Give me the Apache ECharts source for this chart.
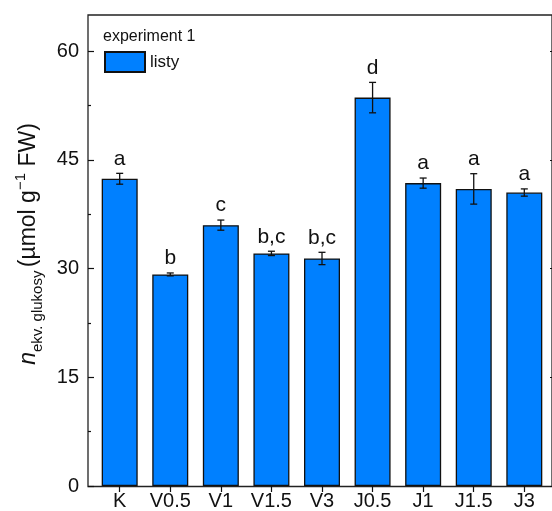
<!DOCTYPE html>
<html>
<head>
<meta charset="utf-8">
<script src="https://cdn.jsdelivr.net/npm/echarts@6/dist/echarts.min.js"></script>
<style>
  html, body { margin: 0; padding: 0; background: #fff; }
  #chart { width: 552px; height: 511px; }
</style>
</head>
<body>
<div id="chart"></div>
<script>
// Leaf glucose-equivalent content per treatment (mean ± error)
const categories = ['K', 'V0.5', 'V1', 'V1.5', 'V3', 'J0.5', 'J1', 'J1.5', 'J3'];
const means = [42.4, 29.2, 36.0, 32.1, 31.4, 53.6, 41.8, 41.0, 40.5];
const errors = [0.75, 0.2, 0.7, 0.3, 0.85, 2.1, 0.7, 2.1, 0.5];
const groups = ['a', 'b', 'c', 'b,c', 'b,c', 'd', 'a', 'a', 'a'];
const yTicks = [0, 15, 30, 45, 60];
const yMinorTicks = [7.5, 22.5, 37.5, 52.5];
const seriesName = 'listy';
const legendTitle = 'experiment 1';

const FONT = 'Liberation Sans, Arial, sans-serif';
const INK = '#111';
const BAR_FILL = '#0080ff';
const Y_MIN = 0, Y_MAX = 65;

const chart = echarts.init(document.getElementById('chart'), null, { renderer: 'canvas' });

function yAxisDef(position, values, tickLen, showLabels) {
  return {
    type: 'value', gridIndex: 1, position: position, offset: 6.4,
    min: Y_MIN, max: Y_MAX,
    axisLine: { show: false },
    splitLine: { show: false },
    axisTick: { show: true, inside: true, length: tickLen, customValues: values,
                lineStyle: { color: INK, width: 1.2 } },
    axisLabel: { show: showLabels, customValues: values, margin: 9,
                 fontFamily: FONT, fontSize: 20, color: INK }
  };
}

const option = {
  animation: false,
  backgroundColor: '#fff',
  title: {
    text: legendTitle, left: 103, top: 29, padding: 0,
    textStyle: { fontFamily: FONT, fontSize: 16, fontWeight: 'normal', color: INK }
  },
  legend: {
    data: [{ name: seriesName, icon: 'rect' }], left: 104, top: 51, padding: 0,
    itemWidth: 40, itemHeight: 20, itemGap: 6,
    textStyle: { fontFamily: FONT, fontSize: 17, color: INK }
  },
  grid: [
    // outer frame
    { left: 88, top: 15, width: 468, height: 471.5, show: true,
      borderColor: '#222', borderWidth: 1.3, backgroundColor: 'transparent' },
    // plotting area for the categories
    { left: 94.4, top: 15, width: 455.2, height: 471.5 }
  ],
  xAxis: [
    { type: 'value', gridIndex: 0, show: false },
    {
      type: 'category', gridIndex: 1, position: 'bottom', data: categories,
      axisLine: { show: false },
      axisTick: { show: true, inside: true, alignWithLabel: true, length: 6, interval: 0,
                  lineStyle: { color: INK, width: 1.2 } },
      axisLabel: { margin: 5, interval: 0, hideOverlap: false,
                   fontFamily: FONT, fontSize: 20, color: INK }
    },
    {
      type: 'category', gridIndex: 1, position: 'top', data: categories,
      axisLine: { show: false },
      axisTick: { show: true, inside: true, alignWithLabel: true, length: 6, interval: 0,
                  lineStyle: { color: INK, width: 1.2 } },
      axisLabel: { show: false, interval: 0 }
    }
  ],
  yAxis: [
    { type: 'value', gridIndex: 0, show: false },
    yAxisDef('left', yTicks, 6, true),
    yAxisDef('left', yMinorTicks, 3, false),
    yAxisDef('right', yTicks, 6, false),
    yAxisDef('right', yMinorTicks, 3, false)
  ],
  graphic: [{
    type: 'text',
    x: 29, y: 244, rotation: Math.PI / 2,
    style: {
      text: '{i|n}{sub|ekv. glukosy} {m|(µmol g}{sup|−1}{m| FW)}',
      align: 'center', verticalAlign: 'middle',
      rich: {
        i: { fontFamily: FONT, fontSize: 23, fontStyle: 'italic', fill: INK, lineHeight: 32, verticalAlign: 'middle' },
        m: { fontFamily: FONT, fontSize: 23, fill: INK, lineHeight: 32, verticalAlign: 'middle' },
        sub: { fontFamily: FONT, fontSize: 15, fill: INK, lineHeight: 15, verticalAlign: 'bottom' },
        sup: { fontFamily: FONT, fontSize: 15, fill: INK, lineHeight: 15, verticalAlign: 'top' }
      }
    }
  }],
  series: [
    {
      name: seriesName, type: 'bar', xAxisIndex: 1, yAxisIndex: 1,
      data: means, barWidth: 36,
      itemStyle: { color: BAR_FILL, borderColor: INK, borderWidth: 1.3 },
      z: 2
    },
    {
      name: 'errors', type: 'custom', xAxisIndex: 1, yAxisIndex: 1, z: 3,
      data: categories.map((c, i) => [i, means[i], errors[i]]),
      renderItem: function (params, api) {
        const i = api.value(0), m = api.value(1), e = api.value(2);
        const top = api.coord([i, m + e]);
        const bot = api.coord([i, m - e]);
        const x = top[0], hw = 3.5;
        const st = { stroke: INK, lineWidth: 1.3 };
        return {
          type: 'group',
          children: [
            { type: 'line', shape: { x1: x, y1: top[1], x2: x, y2: bot[1] }, style: st },
            { type: 'line', shape: { x1: x - hw, y1: top[1], x2: x + hw, y2: top[1] }, style: st },
            { type: 'line', shape: { x1: x - hw, y1: bot[1], x2: x + hw, y2: bot[1] }, style: st },
            { type: 'text', x: x, y: top[1] - 4,
              style: { text: groups[params.dataIndex], fill: INK,
                       font: '21px ' + FONT, align: 'center', verticalAlign: 'bottom' } }
          ]
        };
      }
    }
  ]
};

chart.setOption(option);
</script>
</body>
</html>
